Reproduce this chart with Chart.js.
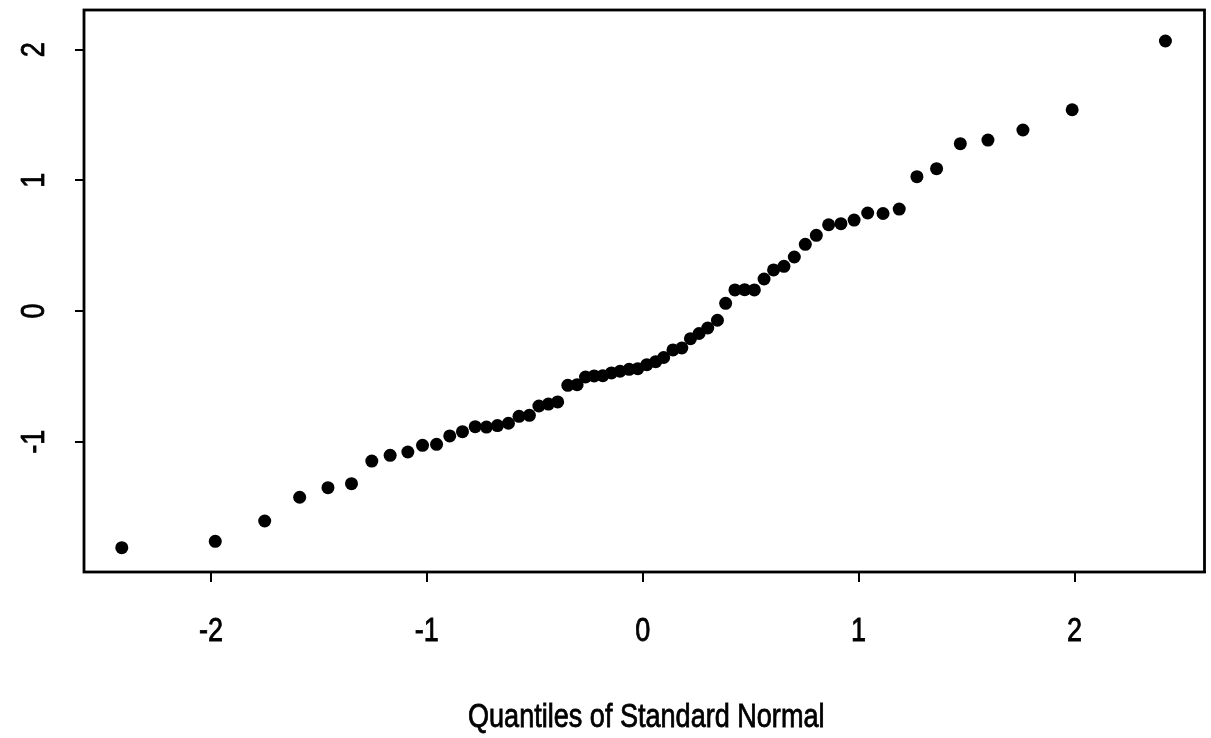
<!DOCTYPE html>
<html>
<head>
<meta charset="utf-8">
<script src="https://cdn.jsdelivr.net/npm/chart.js@4"></script>
<style>
  html, body { margin: 0; padding: 0; background: #ffffff; }
  #wrap { width: 1211px; height: 738px; }
</style>
</head>
<body>
<div id="wrap"><canvas id="c" width="1211" height="738"></canvas></div>
<script>
// Theoretical quantiles (x)
const normalQuantiles = [
  -2.413, -1.980, -1.751, -1.589, -1.458, -1.349, -1.255, -1.170, -1.088, -1.020,
  -0.955, -0.894, -0.835, -0.776, -0.724, -0.673, -0.622, -0.573, -0.525, -0.481,
  -0.437, -0.394, -0.347, -0.304, -0.265, -0.225, -0.185, -0.145, -0.105, -0.063,
  -0.023, 0.019, 0.060, 0.097, 0.140, 0.181, 0.221, 0.261, 0.301, 0.346,
  0.384, 0.427, 0.472, 0.517, 0.562, 0.606, 0.654, 0.702, 0.753, 0.804,
  0.861, 0.918, 0.979, 1.042, 1.113, 1.188, 1.270, 1.361, 1.471, 1.599,
  1.761, 1.989, 2.421
];
// Sample values (y)
const sampleValues = [
  -1.811, -1.762, -1.607, -1.425, -1.352, -1.321, -1.148, -1.104, -1.079, -1.028,
  -1.020, -0.956, -0.923, -0.885, -0.888, -0.877, -0.859, -0.806, -0.798, -0.727,
  -0.712, -0.696, -0.569, -0.564, -0.505, -0.497, -0.495, -0.474, -0.461, -0.446,
  -0.441, -0.411, -0.388, -0.356, -0.298, -0.283, -0.212, -0.172, -0.130, -0.071,
  0.059, 0.161, 0.163, 0.161, 0.245, 0.314, 0.342, 0.413, 0.510, 0.579,
  0.660, 0.668, 0.696, 0.750, 0.746, 0.780, 1.028, 1.089, 1.280, 1.308,
  1.385, 1.540, 2.066
];
const xTickValues = [-2, -1, 0, 1, 2];
const xTickLabels = ['-2', '-1', '0', '1', '2'];
const yTickValues = [-1, 0, 1, 2];
const yTickLabels = ['-1', '0', '1', '2'];
const xAxisTitle = 'Quantiles of Standard Normal';

const FONT = '33px "Liberation Sans", Arial, Helvetica, sans-serif';
const NARROW = 0.82; // condensed, Helvetica-Narrow-like lettering

const points = normalQuantiles.map((q, i) => ({ x: q, y: sampleValues[i] }));

function drawNarrowText(ctx, text, x, y, rotation) {
  ctx.save();
  ctx.translate(x, y);
  if (rotation) ctx.rotate(rotation);
  ctx.scale(NARROW, 1);
  ctx.fillText(text, 0, 0);
  ctx.strokeText(text, 0, 0);
  ctx.restore();
}

const framePlugin = {
  id: 'frame',
  beforeDraw(chart) {
    const ctx = chart.ctx;
    ctx.save();
    ctx.fillStyle = '#ffffff';
    ctx.fillRect(0, 0, chart.width, chart.height);
    ctx.restore();
  },
  afterDraw(chart) {
    const ctx = chart.ctx;
    const a = chart.chartArea;
    const xs = chart.scales.x;
    const ys = chart.scales.y;
    ctx.save();
    ctx.strokeStyle = '#000';
    ctx.lineWidth = 2.8;
    ctx.strokeRect(a.left, a.top, a.right - a.left, a.bottom - a.top);

    ctx.fillStyle = '#000';
    ctx.lineWidth = 0.8;
    ctx.font = FONT;
    ctx.textAlign = 'center';
    ctx.textBaseline = 'alphabetic';
    // x tick labels, placed through the x scale
    xTickValues.forEach((v, i) => {
      drawNarrowText(ctx, xTickLabels[i], xs.getPixelForValue(v), a.bottom + 69, 0);
    });
    // rotated y tick labels, placed through the y scale
    yTickValues.forEach((v, i) => {
      drawNarrowText(ctx, yTickLabels[i], a.left - 40, ys.getPixelForValue(v), -Math.PI / 2);
    });
    // axis title, centred under the plot area
    drawNarrowText(ctx, xAxisTitle, (a.left + a.right) / 2 + 2, 727, 0);
    ctx.restore();
  }
};

new Chart(document.getElementById('c'), {
  type: 'scatter',
  data: {
    datasets: [{
      data: points,
      backgroundColor: '#000000',
      borderWidth: 0,
      pointRadius: 6.5,
      pointHoverRadius: 6.5
    }]
  },
  options: {
    responsive: false,
    animation: false,
    events: [],
    layout: { padding: { top: 10, right: 6, left: 0, bottom: 0 } },
    plugins: { legend: { display: false }, tooltip: { enabled: false } },
    scales: {
      x: {
        type: 'linear',
        min: -2.588,
        max: 2.602,
        afterBuildTicks: s => { s.ticks = xTickValues.map(v => ({ value: v })); },
        afterFit: s => { s.height = 166; },
        border: { display: true, color: '#000', width: 2 },
        grid: { drawOnChartArea: false, drawTicks: true, tickLength: 10, color: '#000', lineWidth: 2 },
        ticks: { display: false }
      },
      y: {
        type: 'linear',
        min: -1.997,
        max: 2.303,
        afterBuildTicks: s => { s.ticks = yTickValues.map(v => ({ value: v })); },
        afterFit: s => { s.width = 84; },
        border: { display: true, color: '#000', width: 2 },
        grid: { drawOnChartArea: false, drawTicks: true, tickLength: 9, color: '#000', lineWidth: 2 },
        ticks: { display: false }
      }
    }
  },
  plugins: [framePlugin]
});
</script>
</body>
</html>
